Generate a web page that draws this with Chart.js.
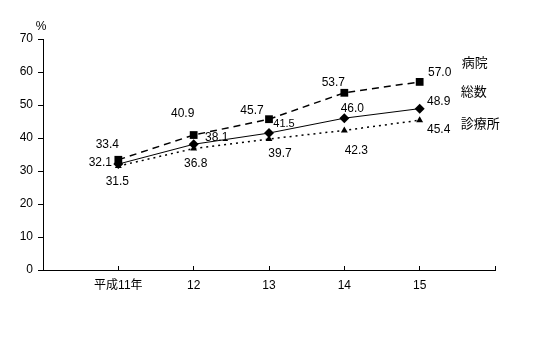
<!DOCTYPE html>
<html><head><meta charset="utf-8">
<script src="https://cdn.jsdelivr.net/npm/chart.js@4/dist/chart.umd.min.js"></script>
<style>html,body{margin:0;padding:0;background:#fff}#wrap{width:543px;height:356px;position:relative}</style>
</head><body><div id="wrap"><canvas id="c"></canvas></div>
<script>
const categories = ['平成11年', '12', '13', '14', '15'];
const seriesNames = ['病院', '総数', '診療所'];
const hospital = [33.4, 40.9, 45.7, 53.7, 57.0];
const total = [32.1, 38.1, 41.5, 46.0, 48.9];
const clinic = [31.5, 36.8, 39.7, 42.3, 45.4];
const yMin = 0, yMax = 70, yStep = 10;
const unitLabel = '%';

const FONT = "'Liberation Sans','Noto Sans CJK JP',sans-serif";
Chart.defaults.font.family = FONT;
Chart.defaults.font.size = 12;
Chart.defaults.color = '#000';

const toPts = arr => arr.map((v, i) => ({ x: i + 1, y: v }));

// per-point label offsets (dx, dy) from the marker, per series
const labelOffsets = [
  [[-11, -15], [-11, -21], [-17, -9], [-11, -10], [20, -9]],
  [[-18, -1], [23, -7], [15, -9], [8, -10], [19, -7]],
  [[-1, 16], [2, 15], [11, 15], [12, 20], [19, 10]]
];
const labelSizes = [
  [12, 12, 12, 12, 12],
  [12, 12, 11, 12, 12],
  [12, 12, 12, 12, 12]
];
const nameOffsets = [[42, -18], [41, -16], [41, 4]];

const labelPlugin = {
  id: 'labels',
  afterDatasetsDraw(chart) {
    const ctx = chart.ctx;
    ctx.save();
    ctx.fillStyle = '#000';
    ctx.textBaseline = 'middle';
    chart.data.datasets.forEach((ds, di) => {
      const meta = chart.getDatasetMeta(di);
      meta.data.forEach((el, i) => {
        const [dx, dy] = labelOffsets[di][i];
        ctx.font = labelSizes[di][i] + 'px ' + FONT;
        ctx.textAlign = 'center';
        ctx.fillText(ds.data[i].y.toFixed(1), el.x + dx, el.y + dy);
      });
      const last = meta.data[meta.data.length - 1];
      ctx.font = '13px ' + FONT;
      ctx.textAlign = 'left';
      ctx.fillText(seriesNames[di], last.x + nameOffsets[di][0], last.y + nameOffsets[di][1]);
    });
    const ca = chart.chartArea;
    ctx.font = '12px ' + FONT;
    ctx.textAlign = 'center';
    ctx.fillText(unitLabel, ca.left - 2, ca.top - 12);
    ctx.restore();
  }
};

new Chart(document.getElementById('c'), {
  type: 'line',
  data: {
    datasets: [
      { label: seriesNames[0], data: toPts(hospital), borderColor: '#000', backgroundColor: '#000',
        borderWidth: 1.5, borderDash: [7, 5], pointStyle: 'rect', pointRadius: 5.5, pointBorderWidth: 0 },
      { label: seriesNames[1], data: toPts(total), borderColor: '#000', backgroundColor: '#000',
        borderWidth: 1, pointStyle: 'rectRot', pointRadius: 5, pointBorderWidth: 0 },
      { label: seriesNames[2], data: toPts(clinic), borderColor: '#000', backgroundColor: '#000',
        borderWidth: 1.5, borderDash: [2, 4], pointStyle: 'triangle', pointRadius: 4, pointBorderWidth: 0 }
    ]
  },
  options: {
    responsive: true, maintainAspectRatio: false, animation: false, devicePixelRatio: 1,
    layout: { padding: { left: 0, top: 39, right: 48, bottom: 0 } },
    plugins: { legend: { display: false }, tooltip: { enabled: false } },
    scales: {
      x: {
        type: 'linear', min: 0, max: categories.length + 1,
        afterFit: s => { s.height = 86; },
        grid: { drawOnChartArea: false, tickLength: -4, color: '#000' },
        border: { color: '#000', width: 1 },
        ticks: { stepSize: 1, padding: 12, color: '#000', maxRotation: 0, autoSkip: false,
          callback: v => categories[v - 1] ?? '' }
      },
      y: {
        min: yMin, max: yMax,
        afterFit: s => { s.width = 43; },
        grid: { drawOnChartArea: false, tickLength: 5, color: '#000' },
        border: { color: '#000', width: 1 },
        ticks: { stepSize: yStep, padding: 5, color: '#000' }
      }
    }
  },
  plugins: [labelPlugin]
});
</script>
</body></html>
